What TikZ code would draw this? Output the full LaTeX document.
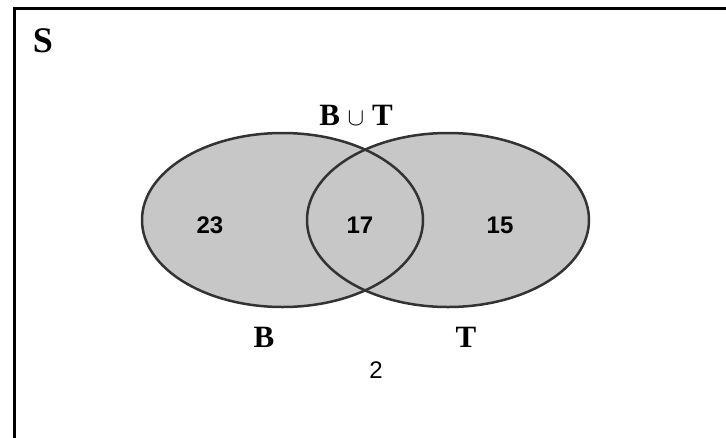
\documentclass[tikz,border=0pt]{standalone}
\usepackage{fontspec}
\setmainfont{Liberation Serif}
\setsansfont{Liberation Sans}
\usetikzlibrary{positioning}

\begin{document}
\begin{tikzpicture}[
  x=1pt, y=-1pt,
  frame/.style={draw=black, line width=3pt},
  setfill/.style={fill=black!22},
  setline/.style={draw=black!80, line width=2.5pt},
  setname/.style={anchor=base, font=\fontsize{31}{31}\selectfont\bfseries\rmfamily},
  count/.style={anchor=base, font=\fontsize{24}{24}\selectfont\bfseries\sffamily},
  outside/.style={anchor=base, font=\fontsize{24}{24}\selectfont\sffamily}
]
\clip (0,0) rectangle (726,437);
\useasboundingbox (0,0) rectangle (726,437);
\draw[frame] (14,8) rectangle (760,470);

% the two sets
\fill[setfill] (282.5,220) ellipse [x radius=140.5, y radius=87];
\fill[setfill] (448,220) ellipse [x radius=141, y radius=87];
\draw[setline] (282.5,220) ellipse [x radius=140.5, y radius=87];
\draw[setline] (448,220) ellipse [x radius=141, y radius=87];

\node[setname, font=\fontsize{36}{36}\selectfont\bfseries\rmfamily] (space) at (43,52) {S};
\node[setname] (union) at (356,125) {B $\cup$ T};
\node[count] (onlyB) at (210,233) {23};
\node[count] (both) at (360,233) {17};
\node[count] (onlyT) at (500,233) {15};
\node[setname] (nameB) at (264,347) {B};
\node[setname] (nameT) at (466,347) {T};
\node[outside] (neither) at (376,378) {2};
\end{tikzpicture}
\end{document}
